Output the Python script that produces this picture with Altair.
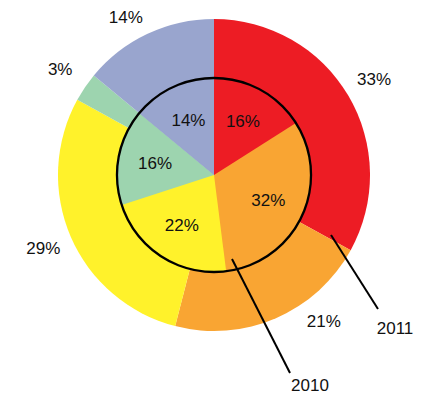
import altair as alt
import pandas as pd

categories = ["Red", "Orange", "Yellow", "Green", "Purple"]
colors = ["#ED1C24", "#F9A533", "#FFF22B", "#9DD4AF", "#99A5CE"]
order_idx = [0, 1, 2, 3, 4]
values_2011 = [33, 21, 29, 3, 14]
values_2010 = [16, 32, 22, 16, 14]

df11 = pd.DataFrame({"cat": categories, "idx": order_idx, "value": values_2011,
                     "label": [f"{v}%" for v in values_2011]})
df10 = pd.DataFrame({"cat": categories, "idx": order_idx, "value": values_2010,
                     "label": [f"{v}%" for v in values_2010]})

CX, CY = 206, 167
R_OUT, R_IN = 156, 97
FONT = "Liberation Sans"

color = alt.Color("cat:N", scale=alt.Scale(domain=categories, range=colors), legend=None)
tscale = alt.Scale(domain=[0, 100])


def pie(df, radius):
    return alt.Chart(df).mark_arc(radius=radius).encode(
        theta=alt.Theta("value:Q", stack=True, scale=tscale),
        color=color,
        order=alt.Order("idx:Q"),
        x=alt.value(CX), y=alt.value(CY),
    )


def labels(df, radius, keep, dx=0, dy=0):
    return alt.Chart(df).transform_window(
        cum="sum(value)", sort=[{"field": "idx"}]
    ).transform_calculate(
        mid="datum.cum - datum.value / 2"
    ).transform_filter(keep).mark_text(
        radius=radius, font=FONT, fontSize=17, color="#111111",
        align="center", baseline="middle", dx=dx, dy=dy
    ).encode(
        theta=alt.Theta("mid:Q", stack=False, scale=tscale),
        text="label:N",
        x=alt.value(CX), y=alt.value(CY),
    )


outer = pie(df11, R_OUT)
inner = pie(df10, R_IN)

circle = alt.Chart(alt.Data(values=[{}])).mark_arc(
    radius=R_IN, theta=0, theta2=6.2832, filled=False, stroke="black", strokeWidth=2.3
).encode(x=alt.value(CX), y=alt.value(CY))

outer_lbl = labels(df11, 186, "datum.idx != 1 && datum.idx != 4")
outer_lbl_21 = labels(df11, 186, "datum.idx == 1", dx=36, dy=-24)
outer_lbl_14 = labels(df11, 186, "datum.idx == 4", dx=-9, dy=11)
inner_lbl = labels(df10, 60, "true")

rule11 = alt.Chart(alt.Data(values=[{}])).mark_rule(color="black", strokeWidth=2).encode(
    x=alt.value(323), y=alt.value(227), x2=alt.value(370), y2=alt.value(301))
rule10 = alt.Chart(alt.Data(values=[{}])).mark_rule(color="black", strokeWidth=2).encode(
    x=alt.value(224), y=alt.value(251), x2=alt.value(282), y2=alt.value(365))

txt11 = alt.Chart(alt.Data(values=[{}])).mark_text(
    text="2011", font=FONT, fontSize=17, color="#111111", align="center", baseline="middle"
).encode(x=alt.value(387), y=alt.value(321))
txt10 = alt.Chart(alt.Data(values=[{}])).mark_text(
    text="2010", font=FONT, fontSize=17, color="#111111", align="center", baseline="middle"
).encode(x=alt.value(302), y=alt.value(378))

chart = alt.layer(
    outer, inner, circle, outer_lbl, outer_lbl_21, outer_lbl_14, inner_lbl,
    rule11, rule10, txt11, txt10
).properties(
    width=407, height=387, padding=0, autosize=alt.AutoSizeParams(type="none")
).configure_view(stroke=None)

chart.save("out.html", embed_options={"renderer": "svg", "actions": False})
